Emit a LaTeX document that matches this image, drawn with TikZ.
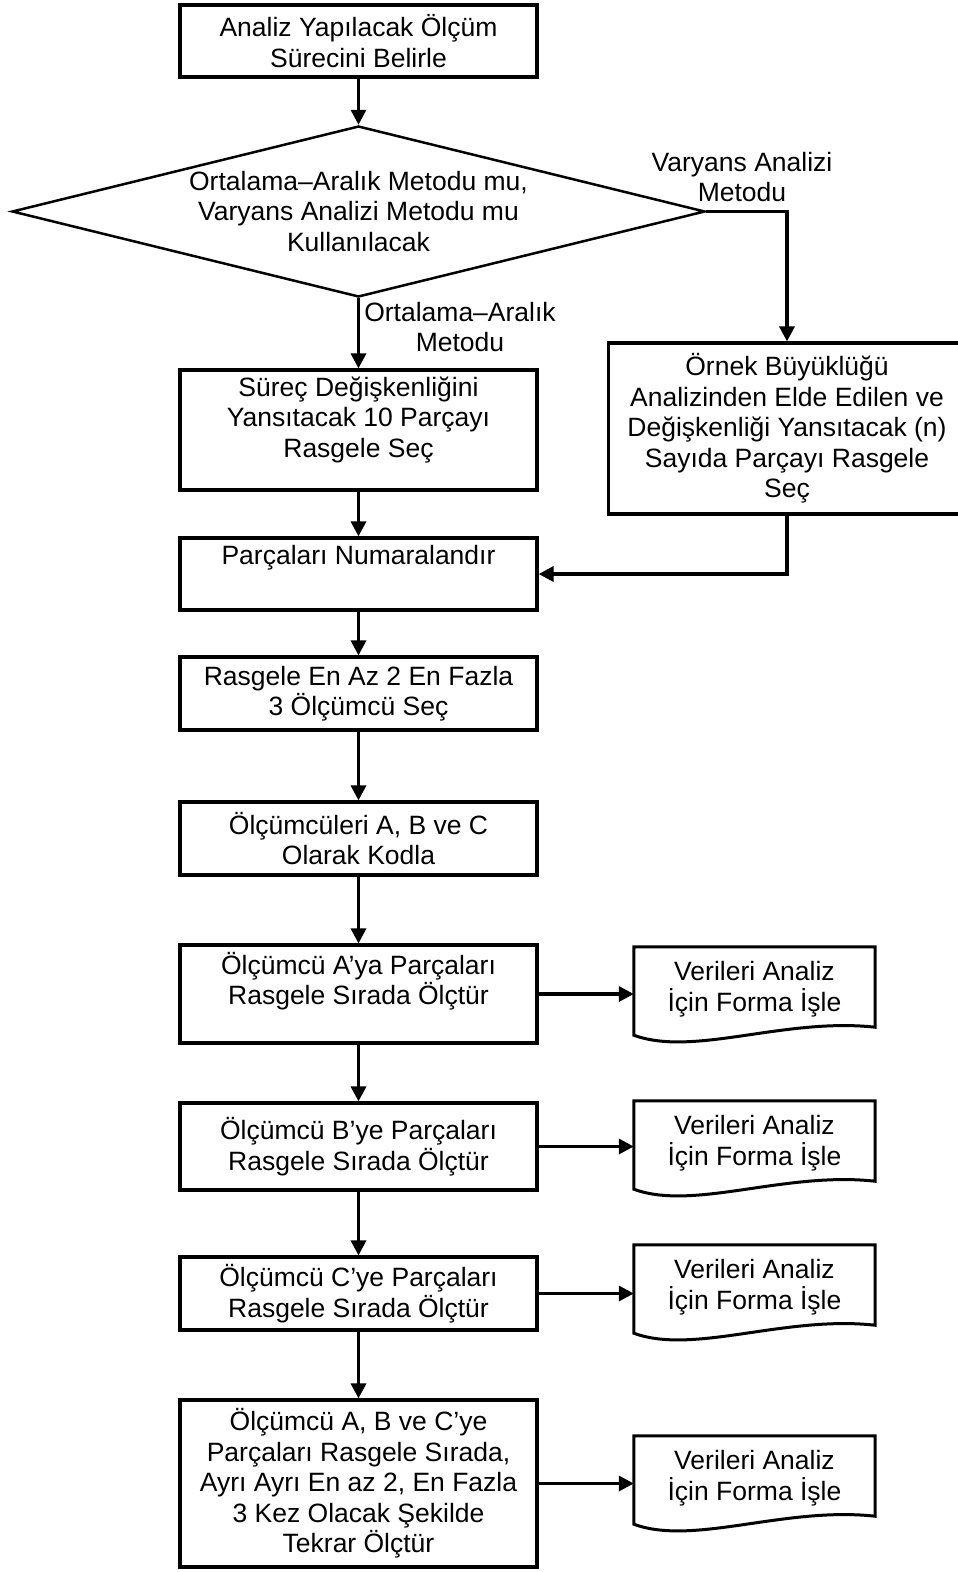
\documentclass[tikz,border=0pt]{standalone}
\usepackage{fontspec}
\setmainfont{Liberation Sans}
\usetikzlibrary{shapes.geometric,arrows.meta,calc}
\begin{document}
\begin{tikzpicture}[x=1pt,y=-1pt,
  txt/.style={font=\fontsize{26.5}{30.5}\selectfont, align=center},
  box/.style={txt, draw, line width=3.2pt, minimum width=357pt, inner sep=0pt},
  doc/.style={txt, minimum width=241pt, minimum height=84pt, inner sep=0pt},
  dec/.style={txt, draw, diamond, line width=2.5pt, minimum width=693pt, minimum height=171pt, shape aspect=4.05, inner sep=0pt},
  lbl/.style={txt},
  arr/.style={line width=3.3pt, -{Triangle[length=15pt,width=15pt]}},
  docline/.style={line width=3pt, line join=miter}
]
\useasboundingbox (0,0) rectangle (958,1572);

\node[box, minimum height=72pt] (b1) at (358.5,41) {Analiz Yapılacak Ölçüm\\Sürecini Belirle};
\node[dec] (dia) at (358.5,211.5) {Ortalama–Aralık Metodu mu,\\Varyans Analizi Metodu mu\\Kullanılacak};
\node[lbl] (lv) at (742,177) {Varyans Analizi\\Metodu};
\node[lbl] (lo) at (460,327) {Ortalama–Aralık\\Metodu};
\node[box, minimum height=171pt] (rb) at (787,428.5) {Örnek Büyüklüğü\\Analizinden Elde Edilen ve\\Değişkenliği Yansıtacak (n)\\Sayıda Parçayı Rasgele\\Seç};
\node[box, minimum height=120pt] (b2) at (358.5,430) {\raisebox{10pt}[\height][\depth]{\parbox{357pt}{\centering Süreç Değişkenliğini\\Yansıtacak 10 Parçayı\\Rasgele Seç}}};
\node[box, minimum height=72pt] (b3) at (358.5,574) {\raisebox{16pt}[\height][\depth]{Parçaları Numaralandır}};
\node[box, minimum height=73pt] (b4) at (358.5,693.5) {Rasgele En Az 2 En Fazla\\3 Ölçümcü Seç};
\node[box, minimum height=73pt] (b5) at (358.5,838.5) {Ölçümcüleri A, B ve C\\Olarak Kodla};
\node[box, minimum height=98pt] (b6) at (358.5,994) {\raisebox{13pt}[\height][\depth]{\parbox{357pt}{\centering Ölçümcü A’ya Parçaları\\Rasgele Sırada Ölçtür}}};
\node[box, minimum height=87pt] (b7) at (358.5,1146.5) {Ölçümcü B’ye Parçaları\\Rasgele Sırada Ölçtür};
\node[box, minimum height=73pt] (b8) at (358.5,1293.5) {Ölçümcü C’ye Parçaları\\Rasgele Sırada Ölçtür};
\node[box, minimum height=167pt] (b9) at (358.5,1483.5) {Ölçümcü A, B ve C’ye\\Parçaları Rasgele Sırada,\\Ayrı Ayrı En az 2, En Fazla\\3 Kez Olacak Şekilde\\Tekrar Ölçtür};

\node[doc] (d1) at (754.5,989) {Verileri Analiz\\İçin Forma İşle};
\node[doc] (d2) at (754.5,1143) {Verileri Analiz\\İçin Forma İşle};
\node[doc] (d3) at (754.5,1287) {Verileri Analiz\\İçin Forma İşle};
\node[doc] (d4) at (754.5,1478) {Verileri Analiz\\İçin Forma İşle};

\foreach \d in {d1,d2,d3,d4}{
  \draw[docline] (\d.north west) -- (\d.north east) -- ($(\d.south east)+(0,-4)$)
    .. controls ($(\d.south east)+(-91,-14)$) and ($(\d.south west)+(60,26)$) .. ($(\d.south west)+(0,4)$) -- cycle;
}

\draw[arr] (b1.south) -- (dia.north);
\draw[arr] (dia.east) -| (rb.north);
\draw[arr] (dia.south) -- (b2.north);
\draw[arr] (b2.south) -- (b3.north);
\draw[arr] (rb.south) |- (b3.east);
\draw[arr] (b3.south) -- (b4.north);
\draw[arr] (b4.south) -- (b5.north);
\draw[arr] (b5.south) -- (b6.north);
\draw[arr] (b6.south) -- (b7.north);
\draw[arr] (b7.south) -- (b8.north);
\draw[arr] (b8.south) -- (b9.north);
\draw[arr] (b6.east) -- (b6.east -| d1.west);
\draw[arr] (b7.east) -- (b7.east -| d2.west);
\draw[arr] (b8.east) -- (b8.east -| d3.west);
\draw[arr] (b9.east) -- (b9.east -| d4.west);
\end{tikzpicture}
\end{document}
